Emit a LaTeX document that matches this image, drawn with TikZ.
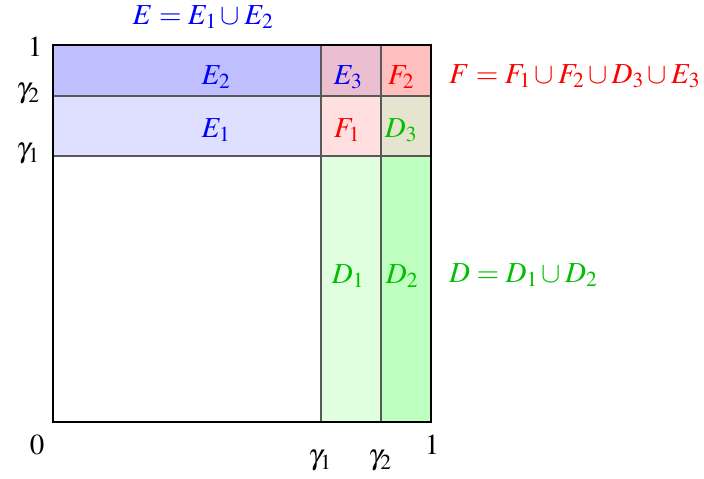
\documentclass[tikz,border=0pt]{standalone}
\usepackage{mathptmx}
\definecolor{cEtwo}{RGB}{191,191,255}
\definecolor{cEone}{RGB}{223,223,255}
\definecolor{cEthree}{RGB}{235,191,208}
\definecolor{cFtwo}{RGB}{255,191,191}
\definecolor{cFone}{RGB}{255,223,223}
\definecolor{cDthree}{RGB}{229,229,207}
\definecolor{cDone}{RGB}{223,255,223}
\definecolor{cDtwo}{RGB}{191,255,191}
\definecolor{tgreen}{RGB}{0,192,0}
\begin{document}
\begin{tikzpicture}[x=1pt,y=-1pt,
  lbl/.style={font=\fontsize{29}{35}\selectfont, inner sep=0pt},
  inner/.style={draw=black!65, line width=1.1pt},
  outer/.style={draw=black, line width=1.1pt}]
\useasboundingbox (0,0) rectangle (704,479);
% corners and divisions
\coordinate (BL) at (53,422);
\coordinate (TR) at (431,45);
% fills
\fill[cEtwo] (53,45) rectangle (321,96);
\fill[cEone] (53,96) rectangle (321,156);
\fill[cEthree] (321,45) rectangle (381,96);
\fill[cFtwo] (381,45) rectangle (431,96);
\fill[cFone] (321,96) rectangle (381,156);
\fill[cDthree] (381,96) rectangle (431,156);
\fill[cDone] (321,156) rectangle (381,422);
\fill[cDtwo] (381,156) rectangle (431,422);
% internal lines
\coordinate (v1t) at (321,45); \coordinate (v1b) at (321,422);
\coordinate (v2t) at (381,45); \coordinate (v2b) at (381,422);
\coordinate (h2l) at (53,96); \coordinate (h2r) at (431,96);
\coordinate (h1l) at (53,156); \coordinate (h1r) at (431,156);
\draw[inner] (v1t) -- (v1b);
\draw[inner] (v2t) -- (v2b);
\draw[inner] (h2l) -- (h2r);
\draw[inner] (h1l) -- (h1r);
\draw[outer] (BL) rectangle (TR);
% axis labels
\node[lbl] (one) at (35,47) {$1$};
\node[lbl] (g2l) at (28,94) {$\gamma_2$};
\node[lbl] (g1l) at (28,154) {$\gamma_1$};
\node[lbl] (zero) at (37,445) {$0$};
\node[lbl] (g1b) at (320,461) {$\gamma_1$};
\node[lbl] (g2b) at (380,461) {$\gamma_2$};
\node[lbl] (oneb) at (432,445) {$1$};
% cell labels
\node[lbl, text=blue, anchor=base] (E2) at (216,84) {$E_2$};
\node[lbl, text=blue, anchor=base] (E1) at (216,137) {$E_1$};
\node[lbl, text=blue, anchor=base] (E3) at (348,84) {$E_3$};
\node[lbl, text=red, anchor=base] (F2) at (401,84) {$F_2$};
\node[lbl, text=red, anchor=base] (F1) at (347,137) {$F_1$};
\node[lbl, text=tgreen, anchor=base] (D3) at (401,137) {$D_3$};
\node[lbl, text=tgreen, anchor=base] (D1) at (348,283) {$D_1$};
\node[lbl, text=tgreen, anchor=base] (D2) at (402,283) {$D_2$};
% set definitions
\node[lbl, text=blue, anchor=base] (Edef) at (203,24) {$E=E_1\cup E_2$};
\node[lbl, text=red, anchor=base west] (Fdef) at (449,83) {$F=F_1\cup F_2\cup D_3\cup E_3$};
\node[lbl, text=tgreen, anchor=base west] (Ddef) at (449,282) {$D=D_1\cup D_2$};
\end{tikzpicture}
\end{document}
